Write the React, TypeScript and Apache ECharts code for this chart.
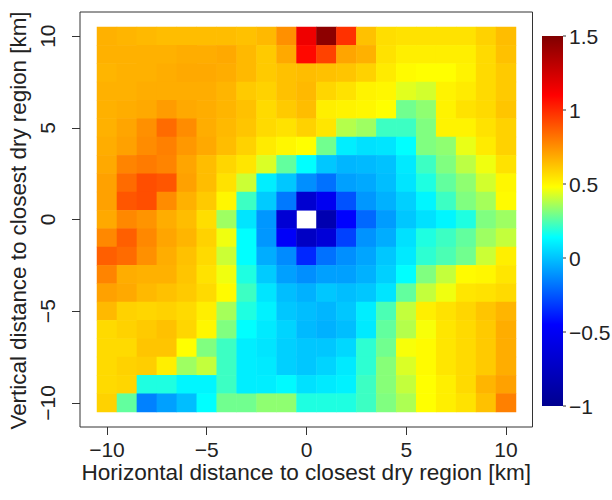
import React, { useEffect, useRef } from 'react';
import * as echarts from 'echarts';

// Category labels (km), left→right and bottom→top
const xCategories = ['-10','-9','-8','-7','-6','-5','-4','-3','-2','-1','0','1','2','3','4','5','6','7','8','9','10'];
const yCategories = ['-10','-9','-8','-7','-6','-5','-4','-3','-2','-1','0','1','2','3','4','5','6','7','8','9','10'];
const axisTickLabels = ['-10', '-5', '0', '5', '10'];
const colorbarTicks = [1.5, 1, 0.5, 0, -0.5, -1];

// Rows of values, each from x=-10 to x=10
const rowY10 = [0.67,0.66,0.65,0.64,0.64,0.64,0.64,0.63,0.65,0.75,1.15,1.46,0.98,0.63,0.56,0.55,0.55,0.55,0.55,0.59,0.64];
const rowY9 = [0.67,0.67,0.67,0.67,0.68,0.68,0.69,0.65,0.61,0.69,1.08,0.94,0.70,0.67,0.55,0.52,0.52,0.52,0.52,0.57,0.63];
const rowY8 = [0.66,0.67,0.67,0.68,0.69,0.69,0.68,0.65,0.61,0.63,0.64,0.63,0.62,0.59,0.53,0.49,0.48,0.48,0.51,0.57,0.61];
const rowY7 = [0.67,0.67,0.68,0.68,0.68,0.68,0.66,0.61,0.59,0.63,0.65,0.58,0.55,0.51,0.50,0.44,0.42,0.51,0.53,0.57,0.61];
const rowY6 = [0.67,0.68,0.69,0.72,0.69,0.68,0.66,0.63,0.57,0.61,0.64,0.52,0.51,0.50,0.48,0.29,0.33,0.51,0.55,0.57,0.62];
const rowY5 = [0.67,0.70,0.75,0.84,0.76,0.68,0.65,0.62,0.57,0.55,0.59,0.54,0.38,0.35,0.22,0.22,0.31,0.51,0.51,0.55,0.59];
const rowY4 = [0.68,0.71,0.76,0.79,0.73,0.69,0.64,0.59,0.53,0.50,0.48,0.29,0.10,0.07,0.08,0.14,0.31,0.33,0.45,0.53,0.59];
const rowY3 = [0.69,0.78,0.80,0.78,0.70,0.64,0.58,0.54,0.43,0.27,0.14,0.01,-0.03,-0.02,0.00,0.09,0.22,0.31,0.39,0.46,0.55];
const rowY2 = [0.71,0.84,0.91,0.89,0.71,0.64,0.55,0.41,0.10,0.01,-0.12,-0.19,-0.08,-0.06,-0.01,0.08,0.18,0.27,0.33,0.42,0.50];
const rowY1 = [0.71,0.89,0.91,0.76,0.67,0.61,0.50,0.22,0.02,-0.17,-0.68,-0.52,-0.26,-0.10,-0.04,0.03,0.12,0.22,0.31,0.36,0.49];
const rowY0 = [0.69,0.77,0.74,0.68,0.64,0.56,0.35,0.08,-0.10,-0.66,null,-0.84,-0.45,-0.21,-0.09,0.01,0.07,0.12,0.18,0.31,0.35];
const rowYm1 = [0.77,0.87,0.77,0.70,0.66,0.59,0.46,0.14,-0.10,-0.48,-0.74,-0.64,-0.30,-0.11,-0.05,0.07,0.18,0.22,0.27,0.35,0.40];
const rowYm2 = [0.87,0.84,0.75,0.68,0.63,0.57,0.41,0.14,-0.05,-0.13,-0.36,-0.19,-0.12,-0.07,0.01,0.09,0.20,0.24,0.29,0.41,0.52];
const rowYm3 = [0.78,0.68,0.67,0.67,0.62,0.55,0.46,0.18,0.02,-0.08,-0.12,-0.08,-0.08,-0.04,0.03,0.14,0.31,0.40,0.49,0.50,0.54];
const rowYm4 = [0.71,0.69,0.65,0.63,0.61,0.57,0.49,0.22,0.08,-0.01,-0.04,0.01,-0.01,0.01,0.08,0.27,0.40,0.46,0.54,0.55,0.57];
const rowYm5 = [0.65,0.59,0.58,0.59,0.57,0.52,0.36,0.18,0.11,0.01,-0.01,-0.03,0.01,0.10,0.24,0.40,0.52,0.55,0.58,0.62,0.66];
const rowYm6 = [0.57,0.59,0.61,0.63,0.58,0.50,0.31,0.14,0.09,0.04,-0.02,-0.04,-0.01,0.09,0.27,0.38,0.47,0.54,0.57,0.61,0.68];
const rowYm7 = [0.57,0.57,0.62,0.62,0.48,0.31,0.22,0.10,0.08,0.03,0.01,0.01,0.05,0.20,0.29,0.47,0.49,0.54,0.57,0.61,0.68];
const rowYm8 = [0.57,0.59,0.60,0.52,0.35,0.40,0.22,0.10,0.09,0.03,0.01,0.04,0.09,0.20,0.32,0.43,0.49,0.54,0.57,0.61,0.68];
const rowYm9 = [0.57,0.58,0.18,0.18,0.12,0.12,0.22,0.10,0.10,0.13,0.07,0.09,0.11,0.22,0.32,0.40,0.48,0.52,0.57,0.66,0.71];
const rowYm10 = [0.59,0.27,-0.15,-0.08,-0.01,0.14,0.29,0.29,0.33,0.33,0.18,0.18,0.18,0.22,0.31,0.37,0.48,0.52,0.55,0.63,0.79];

// top (y=10) to bottom (y=-10)
const rowsTopDown = [rowY10,rowY9,rowY8,rowY7,rowY6,rowY5,rowY4,rowY3,rowY2,rowY1,rowY0,rowYm1,rowYm2,rowYm3,rowYm4,rowYm5,rowYm6,rowYm7,rowYm8,rowYm9,rowYm10];

// colour scale stops
const cmapValues = [-1, -0.45, 0.14, 0.48, 1.1, 1.5];
const cmapColors = ['#00008F', '#0000FF', '#00FFFF', '#FFFF00', '#FF0000', '#800000'];
const vMin = -1;
const vMax = 1.5;

function hexToRgb(h: string) {
  return [parseInt(h.slice(1, 3), 16), parseInt(h.slice(3, 5), 16), parseInt(h.slice(5, 7), 16)];
}
function colorAt(v: number) {
  for (let i = 0; i < cmapValues.length - 1; i++) {
    if (v <= cmapValues[i + 1] || i === cmapValues.length - 2) {
      const t = Math.max(0, Math.min(1, (v - cmapValues[i]) / (cmapValues[i + 1] - cmapValues[i])));
      const a = hexToRgb(cmapColors[i]);
      const b = hexToRgb(cmapColors[i + 1]);
      const c = a.map((x, k) => Math.round(x + (b[k] - x) * t));
      return `rgb(${c[0]},${c[1]},${c[2]})`;
    }
  }
  return cmapColors[cmapColors.length - 1];
}

const FONT = "'Liberation Sans', Arial, Helvetica, sans-serif";

export default function App() {
  const ref = useRef<HTMLDivElement>(null);
  useEffect(() => {
    if (!ref.current) return;
    const chart = echarts.init(ref.current, undefined, { renderer: 'svg' });

    const data: any[] = [];
    rowsTopDown.forEach((row, r) => {
      const yi = yCategories.length - 1 - r;
      row.forEach((v, xi) => {
        data.push([xi, yi, v === null ? '-' : v]);
      });
    });

    const nSamples = 126;
    const rangeColors: string[] = [];
    for (let i = 0; i < nSamples; i++) {
      rangeColors.push(colorAt(vMin + ((vMax - vMin) * i) / (nSamples - 1)));
    }

    // plot geometry
    const cellLeft = 97, cellTop = 27, cellW = 419, cellH = 385;
    const frameL = 80, frameT = 12, frameR = 532.5, frameB = 427;
    const cbX = 542, cbTop = 36, cbW = 21, cbBottom = 406;
    const cbY = (v: number) => cbBottom - ((v - vMin) / (vMax - vMin)) * (cbBottom - cbTop);

    const showTick = (_i: number, v: string) => axisTickLabels.indexOf(v) >= 0;
    const fmt = (v: string) => v.replace('-', '\u2212');

    const graphic: any[] = [
      {
        type: 'rect',
        shape: { x: frameL, y: frameT, width: frameR - frameL, height: frameB - frameT },
        style: { fill: 'none', stroke: '#333', lineWidth: 1 },
        silent: true,
      },
      {
        type: 'rect',
        shape: { x: cbX, y: cbTop, width: cbW, height: cbBottom - cbTop },
        style: {
          fill: new echarts.graphic.LinearGradient(0, 1, 0, 0,
            cmapValues.map((v, i) => ({ offset: (v - vMin) / (vMax - vMin), color: cmapColors[i] }))),
        },
        silent: true,
      },
    ];
    colorbarTicks.forEach((t) => {
      graphic.push({
        type: 'line',
        shape: { x1: cbX + cbW, y1: cbY(t), x2: cbX + cbW + 3, y2: cbY(t) },
        style: { stroke: '#333', lineWidth: 1 },
        silent: true,
      });
      graphic.push({
        type: 'text',
        x: cbX + cbW + 6,
        y: cbY(t),
        style: {
          text: String(t).replace('-', '\u2212'),
          fontSize: 21,
          fontFamily: FONT,
          fill: '#222',
          align: 'left',
          verticalAlign: 'middle',
          textAlign: 'left',
          textVerticalAlign: 'middle',
        },
        silent: true,
      });
    });
    graphic.push({
      type: 'text',
      x: (frameL + frameR) / 2,
      y: 472,
      style: {
        text: 'Horizontal distance to closest dry region [km]',
        fontSize: 22.6,
        fontFamily: FONT,
        fill: '#222',
        align: 'center',
        verticalAlign: 'middle',
        textAlign: 'center',
        textVerticalAlign: 'middle',
      },
      silent: true,
    });
    graphic.push({
      type: 'text',
      x: 18,
      y: (frameT + frameB) / 2 + 1,
      rotation: Math.PI / 2,
      style: {
        text: 'Vertical distance to closest dry region [km]',
        fontSize: 22.4,
        fontFamily: FONT,
        fill: '#222',
        align: 'center',
        verticalAlign: 'middle',
        textAlign: 'center',
        textVerticalAlign: 'middle',
      },
      silent: true,
    });

    chart.setOption({
      animation: false,
      backgroundColor: '#ffffff',
      grid: { left: cellLeft, top: cellTop, width: cellW, height: cellH, containLabel: false },
      xAxis: {
        type: 'category',
        data: xCategories,
        offset: frameB - (cellTop + cellH),
        axisLine: { show: false },
        axisTick: { show: true, alignWithLabel: true, interval: showTick, length: 8, lineStyle: { color: '#333' } },
        axisLabel: { interval: showTick, formatter: fmt, fontSize: 21, fontFamily: FONT, color: '#222', margin: 12 },
        splitLine: { show: false },
        splitArea: { show: false },
      },
      yAxis: {
        type: 'category',
        data: yCategories,
        offset: cellLeft - frameL,
        axisLine: { show: false },
        axisTick: { show: true, alignWithLabel: true, interval: showTick, length: 8, lineStyle: { color: '#333' } },
        axisLabel: { interval: showTick, formatter: fmt, rotate: 90, fontSize: 21, fontFamily: FONT, color: '#222', margin: 22 },
        splitLine: { show: false },
        splitArea: { show: false },
      },
      visualMap: {
        type: 'continuous',
        show: false,
        min: vMin,
        max: vMax,
        dimension: 2,
        inRange: { color: rangeColors },
      },
      series: [
        {
          type: 'heatmap',
          data,
          itemStyle: { borderWidth: 0 },
          emphasis: { disabled: true },
          progressive: 0,
        },
      ],
      graphic,
    });

    return () => {
      chart.dispose();
    };
  }, []);

  return (
    <div
      ref={ref}
      style={{ position: 'fixed', left: 0, top: 0, width: 612, height: 500, background: '#fff' }}
    />
  );
}
